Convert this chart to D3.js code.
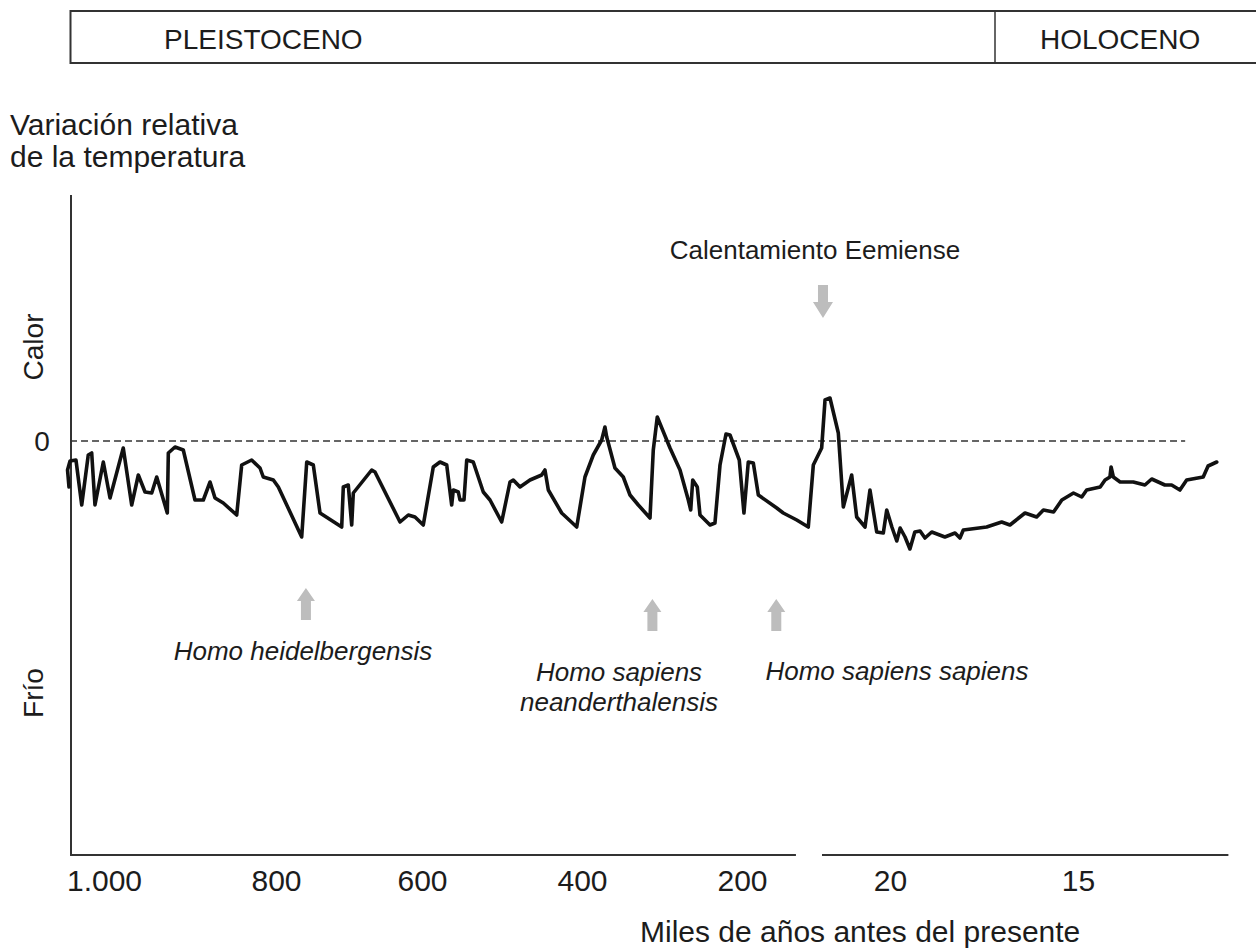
<!DOCTYPE html>
<html>
	<head>
		<meta charset="utf-8">
		<title>Variación relativa de la temperatura</title>
		<script src="https://d3js.org/d3.v7.min.js"></script>
		<style>
			body { margin: 0; background: #fff; }
			text { font-family: "Liberation Sans", Arial, Helvetica, sans-serif; fill: #1c1c1c; }
		</style>
	</head>

	<body>

		<svg width="1256" height="950"></svg>

		<script type="text/javascript">
			// miles de años antes del presente
			var ages = [1040.7, 1042.4, 1039.5, 1032.6, 1025.9, 1018.3, 1014.3, 1010.5, 1000.8, 993.0,
				977.6, 967.8, 960.1, 952.3, 944.5, 938.7, 926.4, 925.2, 917.4, 907.8,
				894.2, 884.5, 876.7, 870.9, 861.3, 845.7, 839.9, 828.3, 818.6, 814.8,
				803.1, 796.8, 764.8, 757.9, 748.9, 739.7, 710.0, 707.8, 701.0, 696.3,
				694.1, 668.9, 664.4, 630.1, 618.8, 609.6, 598.4, 585.9, 577.5, 569.1,
				562.9, 560.9, 554.6, 552.5, 547.5, 544.1, 535.9, 523.4, 515.0, 500.4,
				490.0, 485.9, 477.5, 465.0, 450.4, 446.3, 442.1, 425.4, 406.6, 396.3,
				385.9, 375.4, 371.3, 369.1, 358.8, 348.4, 340.0, 329.6, 315.0, 310.9,
				305.9, 290.0, 277.5, 267.1, 264.1, 261.6, 255.9, 252.5, 240.0, 233.8,
				227.5, 220.0, 215.0, 203.4, 198.3, 194.5, 190.1, 185.7, 169.6, 163.9,
				152.1, 142.0, 137.6, 130.3, 125.1, 117.1, 103.6, 95.5, 82.0, 73.9,
				60.4, 52.4, 41.5, 30.8, 25.3, 19.95, 19.82, 19.73, 19.6, 19.47,
				19.34, 19.2, 19.07, 18.89, 18.54, 18.27, 18.14, 18.05, 17.43, 17.03,
				16.81, 16.41, 16.1, 15.92, 15.65, 15.43, 15.12, 14.9, 14.77, 14.41,
				14.28, 14.15, 14.12, 14.06, 13.88, 13.53, 13.22, 13.04, 12.69, 12.51,
				12.29, 12.11, 11.67, 11.54, 11.31];
			// variación relativa de la temperatura (0 = dashed line)
			var temps = [-4.6, -2.9, -2.0, -1.9, -6.4, -1.4, -1.2, -6.4, -2.1, -5.7,
				-0.7, -6.4, -3.4, -5.1, -5.2, -3.6, -7.2, -1.2, -0.6, -0.9,
				-5.9, -5.9, -4.1, -5.7, -6.2, -7.4, -2.4, -1.9, -2.7, -3.6,
				-3.9, -4.6, -9.6, -2.1, -2.4, -7.2, -8.6, -4.6, -4.4, -8.4,
				-5.2, -2.9, -3.1, -8.1, -7.4, -7.6, -8.4, -2.6, -2.1, -2.4,
				-6.4, -4.9, -5.1, -5.9, -5.9, -1.9, -2.1, -5.1, -5.9, -8.1,
				-4.1, -3.9, -4.6, -3.9, -3.4, -2.9, -4.9, -7.2, -8.6, -3.6,
				-1.4, 0.1, 1.4, 0.4, -2.7, -3.6, -5.4, -6.4, -7.7, -0.9,
				2.4, -0.7, -2.9, -5.9, -6.9, -3.9, -4.6, -7.4, -8.4, -8.2,
				-2.4, 0.7, 0.6, -1.9, -7.2, -2.1, -2.2, -5.4, -6.7, -7.2,
				-7.9, -8.6, -2.4, -0.7, 4.1, 4.3, 0.8, -6.6, -3.4, -7.6,
				-8.6, -4.9, -9.1, -9.2, -6.9, -8.6, -10.0, -8.7, -9.6, -10.8,
				-9.1, -9.0, -9.7, -9.1, -9.6, -9.2, -9.7, -8.9, -8.6, -8.1,
				-8.4, -7.2, -7.6, -6.9, -7.1, -5.9, -5.2, -5.6, -4.9, -4.6,
				-3.9, -3.6, -2.6, -3.6, -4.1, -4.1, -4.4, -3.8, -4.4, -4.4,
				-4.9, -3.9, -3.6, -2.5, -2.1];

			var tickValues = [1000, 800, 600, 400, 200, 20, 15];
			var tickLabels = ["1.000", "800", "600", "400", "200", "20", "15"];
			// broken time axis: two pieces
			var axisPieces = [[1039.5, 152.8], [130, 11.0]];
			var zeroLineEnd = [1039.5, 12.15];

			var periods = ["PLEISTOCENO", "HOLOCENO"];
			var speciesNames = [["Homo heidelbergensis"], ["Homo sapiens", "neanderthalensis"], ["Homo sapiens sapiens"]];
			var speciesAges = [759, 312, 170];
			var eemianLabel = "Calentamiento Eemiense";
			var eemianAge = 128.4;

			var svg = d3.select("svg");

			// the drawing squeezes the scale after 200 and again after 20
			var x = d3.scaleLinear()
				.domain([1000, 800, 600, 400, 200, 130, 20, 15])
				.range([104, 276, 422, 582, 742, 822, 890, 1078]);
			var y = d3.scaleLinear()
				.domain([-10, 0])
				.range([541, 441]);

			// header box with the two epochs
			svg.append("rect")
				.attr("x", 70.5).attr("y", 11)
				.attr("width", 1200).attr("height", 52)
				.attr("fill", "none").attr("stroke", "#333").attr("stroke-width", 2);
			svg.append("line")
				.attr("x1", 995).attr("x2", 995).attr("y1", 11).attr("y2", 63)
				.attr("stroke", "#333").attr("stroke-width", 1.5);
			svg.selectAll(".period")
				.data(periods)
				.enter().append("text")
				.attr("class", "period")
				.attr("x", function(d, i) { return i == 0 ? 164 : 1040; })
				.attr("y", 49)
				.attr("font-size", "28px")
				.text(function(d) { return d; });

			// y axis title
			svg.append("text")
				.attr("x", 10).attr("y", 135)
				.attr("font-size", "30px")
				.text("Variación relativa");
			svg.append("text")
				.attr("x", 10).attr("y", 167)
				.attr("font-size", "30px")
				.text("de la temperatura");

			// y axis: a bare line
			svg.append("line")
				.attr("x1", 71).attr("x2", 71).attr("y1", 195).attr("y2", 855)
				.attr("stroke", "#333").attr("stroke-width", 2);

			svg.append("text")
				.attr("transform", "translate(43,347) rotate(-90)")
				.attr("text-anchor", "middle")
				.attr("font-size", "28px")
				.text("Calor");
			svg.append("text")
				.attr("transform", "translate(43,693) rotate(-90)")
				.attr("text-anchor", "middle")
				.attr("font-size", "28px")
				.text("Frío");
			svg.append("text")
				.attr("x", 42).attr("y", y(0) + 10)
				.attr("text-anchor", "middle")
				.attr("font-size", "28px")
				.text("0");

			// x axis
			var xAxis = svg.append("g")
				.attr("transform", "translate(0,855)")
				.call(d3.axisBottom(x)
					.tickValues(tickValues)
					.tickFormat(function(d, i) { return tickLabels[i]; })
					.tickSize(0)
					.tickPadding(15));
			xAxis.select(".domain").remove();
			xAxis.selectAll("text")
				.attr("font-size", "30px")
				.attr("font-family", "Liberation Sans, Arial, sans-serif");

			svg.selectAll(".axispiece")
				.data(axisPieces)
				.enter().append("line")
				.attr("class", "axispiece")
				.attr("x1", function(d) { return x(d[0]); })
				.attr("x2", function(d) { return x(d[1]); })
				.attr("y1", 855).attr("y2", 855)
				.attr("stroke", "#333").attr("stroke-width", 2);

			svg.append("text")
				.attr("x", 640).attr("y", 942)
				.attr("font-size", "30px")
				.text("Miles de años antes del presente");

			// zero reference
			svg.append("line")
				.attr("x1", x(zeroLineEnd[0])).attr("x2", x(zeroLineEnd[1]))
				.attr("y1", y(0)).attr("y2", y(0))
				.attr("stroke", "#333").attr("stroke-width", 1.6)
				.attr("stroke-dasharray", "7,4");

			// temperature curve
			var curve = d3.line()
				.x(function(d) { return x(d[0]); })
				.y(function(d) { return y(d[1]); });
			svg.append("path")
				.datum(ages.map(function(a, i) { return [a, temps[i]]; }))
				.attr("d", curve)
				.attr("fill", "none")
				.attr("stroke", "#111")
				.attr("stroke-width", 3.6)
				.attr("stroke-linejoin", "round")
				.attr("stroke-linecap", "round");

			// grey arrows
			function upArrow(cx, top, bottom) {
				return "M" + cx + "," + top +
					"L" + (cx + 9) + "," + (top + 13) +
					"L" + (cx + 5) + "," + (top + 13) +
					"L" + (cx + 5) + "," + bottom +
					"L" + (cx - 5) + "," + bottom +
					"L" + (cx - 5) + "," + (top + 13) +
					"L" + (cx - 9) + "," + (top + 13) + "Z";
			}
			svg.selectAll(".sparrow")
				.data(speciesAges)
				.enter().append("path")
				.attr("class", "sparrow")
				.attr("d", function(d, i) {
					return i == 0 ? upArrow(x(d), 588, 620) : upArrow(x(d), 599, 631);
				})
				.attr("fill", "#bdbdbd");

			var ex = x(eemianAge);
			svg.append("path")
				.attr("d", "M" + ex + ",318L" + (ex + 10) + ",302L" + (ex + 5) + ",302L" + (ex + 5) + ",285L" +
					(ex - 5) + ",285L" + (ex - 5) + ",302L" + (ex - 10) + ",302Z")
				.attr("fill", "#bdbdbd");
			svg.append("text")
				.attr("x", 815).attr("y", 259)
				.attr("text-anchor", "middle")
				.attr("font-size", "26px")
				.text(eemianLabel);

			// species names in italics
			var labelPos = [[303, 660], [619, 681], [897, 680]];
			speciesNames.forEach(function(lines, i) {
				var t = svg.append("text")
					.attr("text-anchor", "middle")
					.attr("font-size", "26px")
					.attr("font-style", "italic");
				lines.forEach(function(s, j) {
					t.append("tspan")
						.attr("x", labelPos[i][0])
						.attr("y", labelPos[i][1] + j * 30)
						.text(s);
				});
			});
		</script>
	</body>
</html>
